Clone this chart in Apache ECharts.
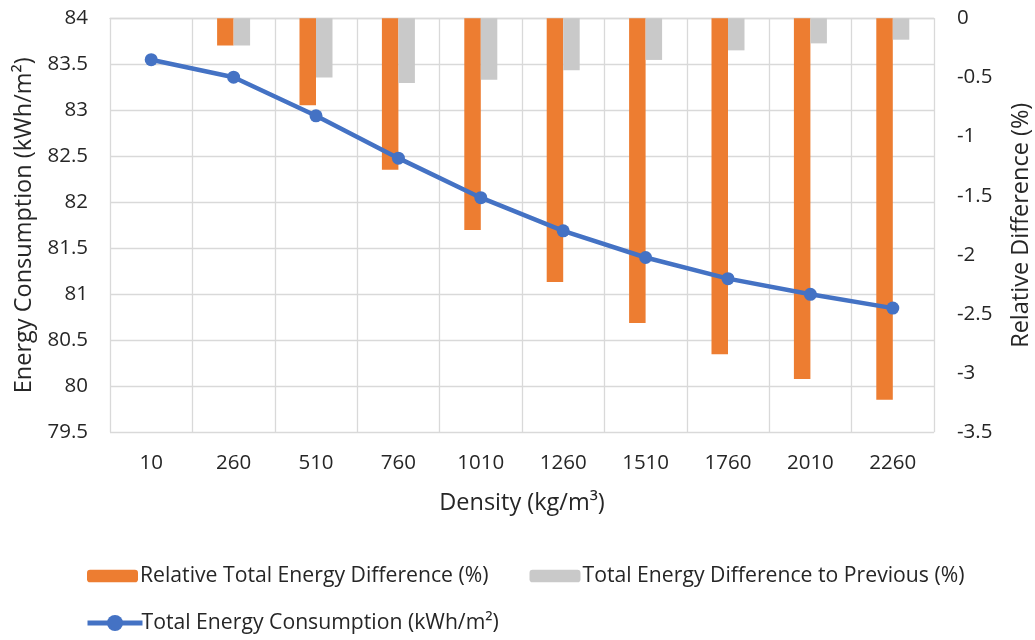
<!DOCTYPE html>
<html>
<head>
<meta charset="utf-8">
<script src="https://cdn.jsdelivr.net/npm/echarts@6/dist/echarts.min.js"></script>
<style>
  html, body { margin: 0; padding: 0; background: #fff; overflow: hidden; }
  #chart { width: 1035px; height: 640px; }
</style>
</head>
<body>
<div id="chart"></div>
<script>
// Density steps (kg/m³)
const densities = ['10', '260', '510', '760', '1010', '1260', '1510', '1760', '2010', '2260'];
// Total energy consumption (kWh/m²)
const totalEnergy = [83.55, 83.36, 82.94, 82.48, 82.05, 81.69, 81.40, 81.17, 81.00, 80.85];
// Relative difference to the lightest case (%)
const relativeDiff = [0, -0.23, -0.735, -1.28, -1.79, -2.23, -2.575, -2.84, -3.05, -3.225];
// Difference to the previous density step (%)
const previousDiff = [0, -0.23, -0.50, -0.547, -0.52, -0.44, -0.352, -0.271, -0.212, -0.181];

const FONT = 'Open Sans';
const TXT = '#262626';
const GRID = '#d9d9d9';
const TICK_SIZE = 20.5;
const LEGEND_SIZE = 21.2;
const TITLE_SIZE = 23.5;

const chart = echarts.init(document.getElementById('chart'), null, { renderer: 'canvas', width: 1035, height: 640 });

chart.setOption({
  backgroundColor: '#ffffff',
  animation: false,
  textStyle: { fontFamily: FONT, color: TXT },
  grid: {
    left: 110, right: 101, top: 18.3, bottom: 207.7,
    containLabel: false,
    outerBoundsMode: 'none'
  },
  legend: [
    {
      data: ['Relative Total Energy Difference (%)', 'Total Energy Difference to Previous (%)'],
      left: 82, top: 559,
      itemWidth: 51, itemHeight: 12.5, itemGap: 41,
      textStyle: { fontFamily: FONT, fontSize: LEGEND_SIZE, lineHeight: 24, color: TXT, padding: [0, 0, 0, -3] }
    },
    {
      data: ['Total Energy Consumption (kWh/m²)'],
      left: 80, top: 606,
      itemWidth: 55, itemHeight: 20,
      lineStyle: { width: 5 },
      textStyle: { fontFamily: FONT, fontSize: LEGEND_SIZE, lineHeight: 24, color: TXT, padding: [0, 0, 0, -6] }
    }
  ],
  xAxis: {
    type: 'category',
    data: densities,
    boundaryGap: true,
    name: 'Density (kg/m³)',
    nameLocation: 'middle',
    nameGap: 71,
    nameTextStyle: { fontSize: TITLE_SIZE, color: TXT, verticalAlign: 'middle' },
    axisLine: { show: true, lineStyle: { color: GRID, width: 1.3 } },
    axisTick: { show: false },
    axisLabel: { fontSize: TICK_SIZE, color: TXT, margin: 20 },
    splitLine: { show: true, lineStyle: { color: GRID, width: 1.3 } }
  },
  yAxis: [
    {
      type: 'value',
      min: 79.5, max: 84, interval: 0.5,
      name: 'Energy Consumption (kWh/m²)',
      nameLocation: 'middle',
      nameRotate: 90,
      nameGap: 86,
      nameTextStyle: { fontSize: TITLE_SIZE, color: TXT, verticalAlign: 'middle' },
      axisLine: { show: false },
      axisTick: { show: false },
      axisLabel: { fontSize: TICK_SIZE, color: TXT, margin: 22 },
      splitLine: { show: true, lineStyle: { color: GRID, width: 1.3 } }
    },
    {
      type: 'value',
      min: -3.5, max: 0, interval: 0.5,
      name: 'Relative Difference (%)',
      nameLocation: 'middle',
      nameRotate: 90,
      nameGap: 87,
      nameTextStyle: { fontSize: TITLE_SIZE, color: TXT, verticalAlign: 'middle' },
      axisLine: { show: false },
      axisTick: { show: false },
      axisLabel: { fontSize: TICK_SIZE, color: TXT, margin: 23 },
      splitLine: { show: false }
    }
  ],
  series: [
    {
      name: 'Relative Total Energy Difference (%)',
      type: 'bar',
      yAxisIndex: 1,
      data: relativeDiff,
      barWidth: 16.5,
      barGap: '0%',
      itemStyle: { color: '#ED7D31' }
    },
    {
      name: 'Total Energy Difference to Previous (%)',
      type: 'bar',
      yAxisIndex: 1,
      data: previousDiff,
      barWidth: 16.5,
      barGap: '0%',
      itemStyle: { color: '#C9C9C9' }
    },
    {
      name: 'Total Energy Consumption (kWh/m²)',
      type: 'line',
      yAxisIndex: 0,
      data: totalEnergy,
      symbol: 'circle',
      symbolSize: 13,
      lineStyle: { color: '#4472C4', width: 4.5 },
      itemStyle: { color: '#4472C4' },
      z: 5
    }
  ]
});
</script>
</body>
</html>
